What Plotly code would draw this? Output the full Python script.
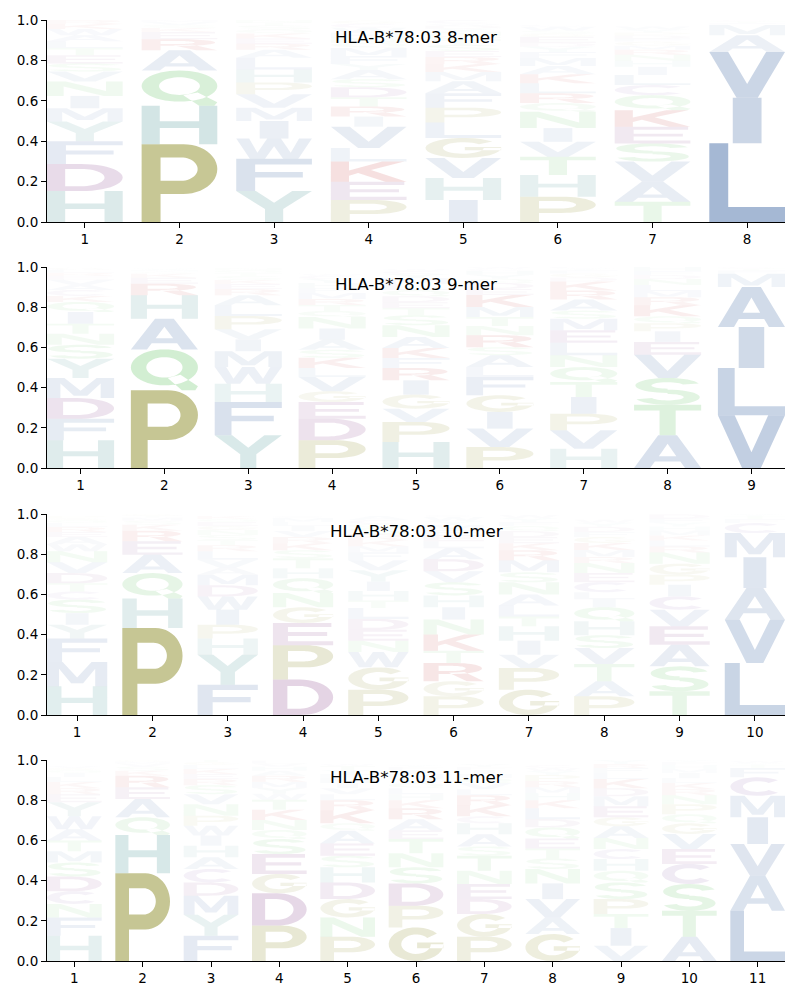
import math
import plotly.graph_objects as go

# ---------------- data (letters listed bottom -> top, with frequencies) ----------------
MER8_LETTERS = ["HDFYMINVSETLAWKR", "PHQAREKSVM", "YFWIMVPHLAREKQSTN", "PEKLVIRTDSAYFMQNHWCG",
                "IHVGLPFAMKRESTQNYDWC", "PHTVINQRLKAMFYDEGSWC", "TAVSEKQCLIHNRMGFDPYW", "LIVAMFTC"]
MER8_FREQS = [
    [.153, .134, .113, .097, .066, .061, .071, .05, .04, .04, .035, .035, .03, .03, .025, .02],
    [.385, .19, .175, .1, .055, .035, .02, .015, .015, .01],
    [.153, .16, .1, .087, .066, .066, .059, .064, .058, .04, .03, .025, .025, .02, .02, .015, .012],
    [.109, .09, .1, .067, .106, .05, .05, .045, .05, .04, .045, .03, .04, .04, .025, .025, .025, .025, .02, .015],
    [.109, .109, .099, .099, .076, .074, .071, .06, .045, .04, .035, .03, .03, .025, .02, .02, .015, .015, .01, .018],
    [.125, .108, .09, .074, .068, .081, .043, .048, .05, .045, .04, .04, .03, .025, .02, .03, .015, .015, .02, .01],
    [.1, .1, .099, .09, .082, .082, .075, .05, .05, .04, .03, .03, .025, .02, .02, .015, .015, .015, .015, .015],
    [.39, .225, .227, .083, .05, .01, .008, .007],
]

MER9_LETTERS = ["HFDMYSNTIQKCAVERLG", "PQAHREKSMV", "YFHWMIVPLAREKSTQN", "PDEGVLKSAINQTRMFHYCW",
                "HPVGIRFKANSTEDQLMYCW", "PVIGFLASRNTMKEDQYHCW", "HVPITQNLEMSARKDGFYC", "ATSVEIPQKRMLNDFH",
                "VLIAMFTC"]
MER9_FREQS = [
    [.138, .107, .103, .1, .096, .069, .055, .05, .058, .05, .03, .03, .025, .025, .02, .015, .015, .01],
    [.387, .203, .153, .116, .058, .03, .02, .01, .008, .008],
    [.163, .165, .091, .083, .079, .059, .05, .066, .054, .05, .03, .025, .02, .02, .015, .015, .01],
    [.138, .107, .083, .054, .071, .045, .05, .04, .05, .056, .057, .03, .03, .03, .03, .025, .025, .02, .015, .01],
    [.129, .1, .066, .07, .071, .062, .049, .05, .055, .058, .05, .035, .03, .03, .03, .03, .03, .02, .015, .01],
    [.104, .092, .083, .083, .091, .049, .059, .04, .06, .045, .045, .05, .06, .03, .03, .02, .02, .02, .01, .01],
    [.096, .092, .082, .083, .075, .074, .059, .062, .062, .058, .04, .055, .045, .045, .02, .02, .015, .01, .01],
    [.163, .152, .133, .116, .063, .053, .04, .035, .055, .04, .03, .03, .03, .02, .02, .02],
    [.262, .236, .203, .199, .067, .015, .01, .008],
]

MER10_LETTERS = ["HMFYISCTDVNWAERLQGP", "PHQAERKSMTG", "FYHPIWDMAVLRTSNGEQK", "DPEGNQHTSKRVILMC",
                 "PGWNEDLTHIYVFMKRSQCA", "PGRTKNIHSVDALEFMYWC", "GPVIHTLANSMRKEDQFYW",
                 "PATVSHQILCENRMKGFDYW", "TSAEVCIPGNRLKMHYFD", "LVAIMCFTY"]
MER10_FREQS = [
    [.143, .121, .116, .069, .058, .067, .041, .04, .051, .054, .055, .035, .035, .025, .025, .02, .015, .01, .01],
    [.433, .146, .127, .091, .067, .053, .03, .02, .015, .01, .008],
    [.151, .149, .08, .069, .075, .066, .055, .053, .035, .04, .042, .03, .025, .025, .025, .02, .02, .015, .015],
    [.176, .171, .111, .078, .071, .073, .05, .05, .04, .035, .03, .03, .025, .02, .02, .01],
    [.126, .111, .076, .056, .055, .054, .054, .038, .047, .047, .056, .05, .04, .03, .03, .03, .03, .02, .02, .02],
    [.093, .075, .091, .061, .08, .075, .061, .059, .065, .055, .06, .055, .035, .03, .025, .025, .02, .02, .01],
    [.126, .108, .066, .07, .071, .049, .055, .055, .06, .05, .06, .05, .035, .03, .03, .025, .02, .02, .015],
    [.093, .075, .086, .079, .064, .069, .07, .04, .035, .05, .045, .05, .03, .035, .035, .03, .025, .025, .02, .015],
    [.118, .124, .108, .091, .083, .066, .058, .05, .055, .055, .03, .03, .025, .025, .02, .02, .02, .02],
    [.259, .215, .158, .153, .12, .05, .02, .015, .01],
]

MER11_LETTERS = ["HFNCDSMTAWYERKLIQGV", "PHQAERKSVMG", "FYMDCAHIWPNVSREKLGT", "PDGESQNKTWYMRAHVL",
                 "PNGDHSEAQKRLVIMFYTW", "GPDSNTEARKHLQVMIFY", "PGDENTSAHCKRLVQMIFY",
                 "GAVINSTEQDLKHMRPYWC", "VITPSQHCNAGEMDKLFRY", "ATSCEVGQPNRKLIMHFY", "LAVIMCFTYW"]
MER11_FREQS = [
    [.126, .091, .067, .063, .073, .07, .056, .054, .055, .065, .07, .04, .03, .03, .025, .02, .015, .01, .01],
    [.436, .191, .088, .091, .058, .058, .025, .02, .015, .01, .008],
    [.126, .104, .095, .066, .067, .058, .058, .05, .049, .05, .057, .05, .045, .03, .025, .025, .02, .015, .015],
    [.176, .161, .096, .099, .075, .045, .05, .05, .05, .03, .03, .03, .03, .025, .02, .015, .015],
    [.121, .096, .091, .083, .075, .058, .061, .063, .037, .065, .05, .03, .03, .025, .025, .02, .02, .02, .01],
    [.167, .108, .111, .08, .07, .071, .043, .055, .055, .04, .03, .03, .025, .025, .02, .02, .015, .01],
    [.121, .113, .074, .075, .066, .075, .046, .06, .055, .035, .055, .05, .03, .03, .025, .02, .02, .015, .015],
    [.134, .083, .091, .078, .072, .052, .05, .05, .055, .04, .055, .04, .035, .03, .03, .03, .02, .015, .015],
    [.076, .088, .07, .074, .083, .058, .058, .05, .055, .058, .045, .055, .05, .04, .045, .03, .025, .02, .02],
    [.121, .129, .133, .1, .074, .075, .053, .045, .05, .045, .03, .03, .025, .025, .02, .02, .015, .01],
    [.25, .174, .158, .133, .107, .092, .046, .015, .01, .01],
]

PANELS = [
    ("HLA-B*78:03 8-mer", MER8_LETTERS, MER8_FREQS),
    ("HLA-B*78:03 9-mer", MER9_LETTERS, MER9_FREQS),
    ("HLA-B*78:03 10-mer", MER10_LETTERS, MER10_FREQS),
    ("HLA-B*78:03 11-mer", MER11_LETTERS, MER11_FREQS),
]

# ---------------- colours ----------------
BLUE = (165, 184, 212)
OLIVE = (198, 198, 148)
TEAL = (165, 202, 202)
GREEN = (170, 222, 170)
PURPLE = (188, 150, 190)
RED = (218, 135, 135)
LAV = (188, 165, 208)
COLOR = {}
for aa in "AVLIMFW":
    COLOR[aa] = BLUE
for aa in "PG":
    COLOR[aa] = OLIVE
for aa in "HY":
    COLOR[aa] = TEAL
for aa in "NQST":
    COLOR[aa] = GREEN
for aa in "DE":
    COLOR[aa] = PURPLE
for aa in "KR":
    COLOR[aa] = RED
COLOR["C"] = LAV


# ---------------- glyph outlines in a unit box ----------------
def arc(cx, cy, rx, ry, a0, a1, n=24):
    pts = []
    for k in range(n + 1):
        a = math.radians(a0 + (a1 - a0) * k / n)
        pts.append((cx + rx * math.cos(a), cy + ry * math.sin(a)))
    return pts


def ring(cx, cy, rox, roy, rix, riy, a0, a1, n=28):
    return arc(cx, cy, rox, roy, a0, a1, n) + arc(cx, cy, rix, riy, a1, a0, n)


def rect(x0, y0, x1, y1):
    return [(x0, y0), (x1, y0), (x1, y1), (x0, y1)]


GLYPHS = {
    "A": [([(0, 0), (.24, 0), (.31, .2), (.69, .2), (.76, 0), (1, 0), (.64, 1), (.36, 1)], False),
          ([(.37, .36), (.63, .36), (.5, .74)], True)],
    "C": [(ring(.5, .5, .5, .5, .27, .29, 42, 318), False)],
    "D": [([(0, 0), (.45, 0)] + arc(.45, .5, .55, .5, -90, 90) + [(0, 1)], False),
          ([(.24, .18), (.45, .18)] + arc(.45, .5, .31, .32, -90, 90) + [(.24, .82)], True)],
    "E": [([(0, 0), (1, 0), (1, .18), (.25, .18), (.25, .42), (.9, .42), (.9, .59), (.25, .59),
            (.25, .82), (.97, .82), (.97, 1), (0, 1)], False)],
    "F": [([(0, 0), (.25, 0), (.25, .42), (.88, .42), (.88, .59), (.25, .59), (.25, .82),
            (1, .82), (1, 1), (0, 1)], False)],
    "G": [(ring(.5, .5, .5, .5, .27, .29, 40, 360), False),
          (rect(.52, .38, 1.0, .55), False)],
    "H": [([(0, 0), (.24, 0), (.24, .42), (.76, .42), (.76, 0), (1, 0), (1, 1), (.76, 1),
            (.76, .6), (.24, .6), (.24, 1), (0, 1)], False)],
    "I": [(rect(.31, 0, .69, 1), False)],
    "K": [([(0, 0), (.24, 0), (.24, .3), (.36, .43), (.72, 0), (1, 0), (.53, .58), (.97, 1),
            (.68, 1), (.24, .56), (.24, 1), (0, 1)], False)],
    "L": [([(0, 0), (1, 0), (1, .19), (.25, .19), (.25, 1), (0, 1)], False)],
    "M": [([(0, 0), (.2, 0), (.2, .72), (.4, .12), (.6, .12), (.8, .72), (.8, 0), (1, 0), (1, 1),
            (.74, 1), (.5, .36), (.26, 1), (0, 1)], False)],
    "N": [([(0, 0), (.22, 0), (.22, .66), (.75, 0), (1, 0), (1, 1), (.78, 1), (.78, .34),
            (.25, 1), (0, 1)], False)],
    "P": [([(0, 0), (.25, 0), (.25, .36), (.55, .36)] + arc(.55, .68, .45, .32, -90, 90) + [(0, 1)], False),
          ([(.25, .53), (.52, .53)] + arc(.52, .68, .22, .15, -90, 90) + [(.25, .83)], True)],
    "Q": [(arc(.5, .56, .5, .44, 0, 360, 48), False),
          (arc(.5, .56, .27, .25, 0, 360, 48), True),
          ([(.55, .3), (.74, .38), (1.0, .1), (.96, 0), (.76, 0)], False)],
    "R": [([(0, 0), (.25, 0), (.25, .4), (.5, .4)] + arc(.5, .7, .47, .3, -90, 90) + [(0, 1)], False),
          ([(.25, .56), (.48, .56)] + arc(.48, .7, .22, .14, -90, 90) + [(.25, .84)], True),
          ([(.42, .46), (.72, 0), (1, 0), (.68, .5)], False)],
    "S": [(ring(.5, .72, .48, .28, .24, .12, 15, 270), False),
          (ring(.5, .28, .48, .28, .24, .12, 90, -165), False)],
    "T": [([(.38, 0), (.62, 0), (.62, .81), (1, .81), (1, 1), (0, 1), (0, .81), (.38, .81)], False)],
    "V": [([(0, 1), (.25, 1), (.5, .3), (.75, 1), (1, 1), (.64, 0), (.36, 0)], False)],
    "W": [([(0, 1), (.17, 1), (.28, .3), (.41, 1), (.59, 1), (.72, .3), (.83, 1), (1, 1), (.82, 0),
            (.62, 0), (.5, .62), (.38, 0), (.18, 0)], False)],
    "Y": [([(0, 1), (.26, 1), (.5, .62), (.74, 1), (1, 1), (.62, .42), (.62, 0), (.38, 0), (.38, .42)], False)],
}


def signed_area(pts):
    s = 0.0
    for i in range(len(pts)):
        x1, y1 = pts[i]
        x2, y2 = pts[(i + 1) % len(pts)]
        s += x1 * y2 - x2 * y1
    return s / 2


def glyph_path(letter, x0, y0, w, h):
    parts = []
    for pts, hole in GLYPHS[letter]:
        a = signed_area(pts)
        if (hole and a > 0) or (not hole and a < 0):
            pts = pts[::-1]
        coords = ["%.4f,%.5f" % (x0 + px * w, y0 + py * h) for px, py in pts]
        parts.append("M" + " L".join(coords) + " Z")
    return " ".join(parts)


# ---------------- figure ----------------
# the page body adds an 8px offset, so the figure is laid out 8px smaller
ML, MR, MT, MB = 39, 15, 12, 39
PLOT_W, PLOT_H = 738, 941
W, H = ML + PLOT_W + MR, MT + PLOT_H + MB
panel_px = [(20, 222), (267, 468), (514, 715), (760, 961)]   # page pixel rows of each axes
LETTER_W = 0.8

fig = go.Figure()
shapes = []
annotations = []
layout = {}

for i, (title, letters, freqs) in enumerate(PANELS, start=1):
    sfx = "" if i == 1 else str(i)
    xr, yr = "x" + sfx, "y" + sfx
    top_px, bot_px = panel_px[i - 1]
    dom = [1 - (bot_px - 20) / PLOT_H, 1 - (top_px - 20) / PLOT_H]
    n = len(letters)
    fmax = max(max(f) for f in freqs)

    fig.add_trace(go.Scatter(x=[], y=[], xaxis=xr, yaxis=yr, showlegend=False, hoverinfo="skip"))

    for p, (lets, fr) in enumerate(zip(letters, freqs), start=1):
        bottom = 0.0
        for aa, f in zip(lets, fr):
            r, g, b = COLOR[aa]
            alpha = min(1.0, f / fmax)
            shapes.append(dict(
                type="path", xref=xr, yref=yr, layer="below",
                path=glyph_path(aa, p - LETTER_W / 2, bottom, LETTER_W, f),
                fillcolor="rgba(%d,%d,%d,%.3f)" % (r, g, b, alpha),
                line=dict(width=0),
            ))
            bottom += f

    axis_common = dict(showline=True, linecolor="black", linewidth=1.1, ticks="outside",
                       ticklen=5, tickwidth=1.1, tickcolor="black", showgrid=False,
                       zeroline=False, fixedrange=True, automargin=False,
                       tickfont=dict(family="DejaVu Sans", size=13.5, color="black"))
    layout["xaxis" + sfx] = dict(domain=[0, 1], anchor=yr, range=[0.6, n + 0.4],
                                 tickvals=list(range(1, n + 1)),
                                 ticktext=[str(k) for k in range(1, n + 1)], **axis_common)
    layout["yaxis" + sfx] = dict(domain=dom, anchor=xr, range=[0, 1],
                                 tickvals=[0, .2, .4, .6, .8, 1.0],
                                 ticktext=["0.0", "0.2", "0.4", "0.6", "0.8", "1.0"], **axis_common)
    annotations.append(dict(text=title, xref=xr + " domain", yref=yr + " domain",
                            x=0.5, y=0.915, showarrow=False, xanchor="center", yanchor="middle",
                            font=dict(family="DejaVu Sans", size=16.7, color="black")))

fig.update_layout(
    width=W, height=H, margin=dict(l=ML, r=MR, t=MT, b=MB, autoexpand=False),
    paper_bgcolor="white", plot_bgcolor="white",
    shapes=shapes, annotations=annotations, showlegend=False,
    **layout,
)

fig.write_html("out.html")
